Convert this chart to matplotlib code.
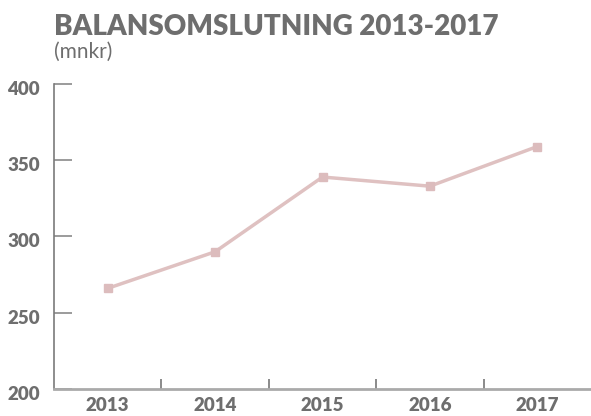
import matplotlib.pyplot as plt
import matplotlib.transforms as mtransforms

years = ["2013", "2014", "2015", "2016", "2017"]
values = [266, 290, 339, 333, 359]
yticks = [200, 250, 300, 350, 400]

plt.rcParams['font.family'] = ['Lato', 'DejaVu Sans']
text_color = "#6e6e6e"
line_color = "#dfc1c1"

fig = plt.figure(figsize=(5.91, 4.16), dpi=100)
ax = fig.add_axes([54 / 591, 27 / 416, 537 / 591, 305 / 416])

x = list(range(len(years)))
ax.plot(x, values, color=line_color, linewidth=2.5, marker='s', markersize=6,
        markerfacecolor="#dcbcbd", markeredgecolor="#dcbcbd")

ax.set_xlim(-0.5, len(years) - 0.5)
ax.set_ylim(200, 400)

# y axis
ax.set_yticks(yticks)
ax.set_yticklabels([str(v) for v in yticks], fontsize=13.5, fontweight='heavy', color=text_color)
ax.tick_params(axis='y', direction='in', length=13, width=1.2, color="#8a8a8a", pad=10)
shift = mtransforms.ScaledTranslation(0, -4 / 100, fig.dpi_scale_trans)
for lab in ax.get_yticklabels():
    lab.set_transform(lab.get_transform() + shift)

# x axis: labels centred, ticks on category boundaries
ax.set_xticks(x)
ax.set_xticklabels(years, fontsize=13.5, fontweight='heavy', color=text_color)
ax.tick_params(axis='x', which='major', length=0, pad=6)
ax.set_xticks([i + 0.5 for i in range(len(years) - 1)], minor=True)
ax.tick_params(axis='x', which='minor', direction='in', length=7, width=1.2, color="#777777")

for s in ["top", "right"]:
    ax.spines[s].set_visible(False)
ax.spines["left"].set_color("#7a7a7a")
ax.spines["left"].set_linewidth(1.2)
ax.spines["bottom"].set_color("#aaaaaa")
ax.spines["bottom"].set_linewidth(2)

fig.text(54 / 591, 1 - 14 / 416, "BALANSOMSLUTNING 2013-2017", fontsize=20, fontweight='heavy',
         color=text_color, ha='left', va='top')
fig.text(54 / 591, 1 - 42 / 416, "(mnkr)", fontsize=15, color=text_color, ha='left', va='top')

plt.savefig("out.png", dpi=100)
